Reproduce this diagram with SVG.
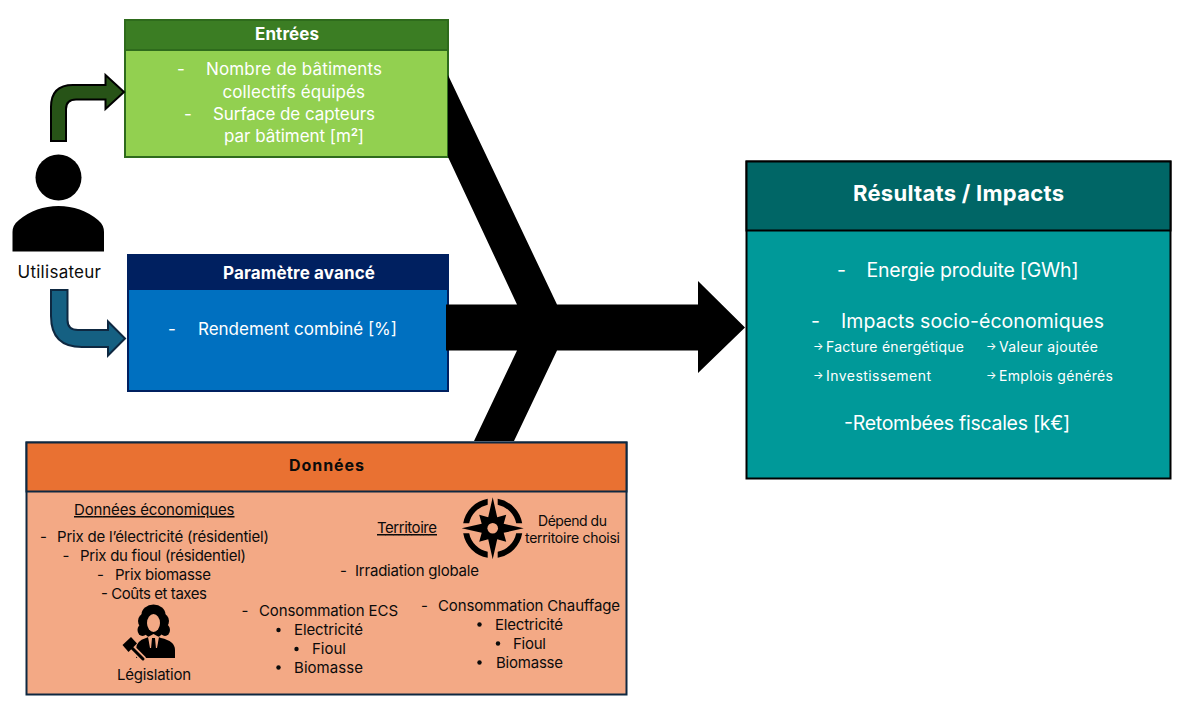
<svg xmlns="http://www.w3.org/2000/svg" xmlns:xlink="http://www.w3.org/1999/xlink" width="1191" height="711" viewBox="0 0 1191 711">
<style>
text{font-family:"Inter","Noto Sans","Liberation Sans",sans-serif;font-size:15px;fill:#0b0b0b}
.w{fill:#fff}
.b{font-weight:700}
.s16{font-size:17px}
.s18{font-size:19.500px}
.s13{font-size:14px}
.u{text-decoration:underline}
</style>
<defs>
<path id="arc" d="M-29.500,-5 A30,30 0 0 1 -5,-29.500 L-5,-23.500 A23.500,23.500 0 0 0 -23.500,-5 Z" fill="#000"/>
</defs>
<g id="node-entrees">
<rect x="125" y="20" width="323" height="137" fill="#92D050" stroke="#2E6B1C" stroke-width="2"/>
<rect x="125" y="20" width="323" height="30" fill="#3B7D23" stroke="#2E6B1C" stroke-width="2"/>
<text class="w b s16" x="255" y="39.500" textLength="64">Entrées</text>
<text class="w s16" x="177" y="75">-</text>
<text class="w s16" x="206" y="75" textLength="176">Nombre de bâtiments</text>
<text class="w s16" x="222.500" y="98" textLength="142.500">collectifs équipés</text>
<text class="w s16" x="184" y="120">-</text>
<text class="w s16" x="213" y="120" textLength="162">Surface de capteurs</text>
<text class="w s16" x="224" y="142" textLength="140">par bâtiment [m<tspan class="b" font-size="11" dy="-6">2</tspan><tspan dy="6">]</tspan></text>
</g>
<g id="node-parametre">
<rect x="128" y="255" width="320" height="136" fill="#0070C0" stroke="#002060" stroke-width="2"/>
<rect x="127" y="254" width="322" height="36" fill="#002060"/>
<text class="w b s16" x="223" y="278.500" textLength="152">Paramètre avancé</text>
<text class="w s16" x="168" y="335">-</text>
<text class="w s16" x="198" y="335" textLength="199">Rendement combiné [%]</text>
</g>
<g id="node-resultats">
<rect x="746.500" y="161.500" width="424" height="317" fill="#009999" stroke="#000" stroke-width="2"/>
<rect x="746.500" y="161.500" width="424" height="69" fill="#006666" stroke="#000" stroke-width="2"/>
<text class="w b" style="font-size:22px" x="853" y="200.500" textLength="211">Résultats / Impacts</text>
<text class="w s18" x="837" y="277">-</text>
<text class="w s18" x="866.500" y="277" textLength="212">Energie produite [GWh]</text>
<text class="w s18" x="811" y="327.500">-</text>
<text class="w s18" x="841" y="327.500" textLength="263">Impacts socio-économiques</text>
<text class="w" style="font-size:11px" x="813" y="350">→</text>
<text class="w s13" x="826" y="351.500" textLength="138">Facture énergétique</text>
<text class="w" style="font-size:11px" x="986" y="350">→</text>
<text class="w s13" x="999" y="351.500" textLength="99">Valeur ajoutée</text>
<text class="w" style="font-size:11px" x="813" y="379">→</text>
<text class="w s13" x="826" y="380.500" textLength="105">Investissement</text>
<text class="w" style="font-size:11px" x="986" y="379">→</text>
<text class="w s13" x="999" y="380.500" textLength="114">Emplois générés</text>
<text class="w s18" x="844" y="430" textLength="226">-Retombées fiscales [k€]</text>
</g>
<g id="node-donnees">
<rect x="26.500" y="442.500" width="600" height="252" fill="#F3A985" stroke="#0E2841" stroke-width="2"/>
<rect x="26.500" y="442.500" width="600" height="49" fill="#E97132" stroke="#0E2841" stroke-width="2"/>
<text class="b" x="289" y="471" textLength="75" style="font-size:16px">Données</text>
<text class="u" x="74" y="515" textLength="160.500">Données économiques</text>
<text x="40" y="541.500">-</text>
<text x="57" y="541.500" textLength="212">Prix de l’électricité (résidentiel)</text>
<text x="62.500" y="560.500">-</text>
<text x="80" y="560.500" textLength="166">Prix du fioul (résidentiel)</text>
<text x="97" y="579.500">-</text>
<text x="115" y="579.500" textLength="96">Prix biomasse</text>
<text x="101" y="598.500" textLength="106">- Coûts et taxes</text>
<text x="117" y="680" textLength="74">Législation</text>
<text class="u" x="377" y="533" textLength="60">Territoire</text>
<text class="s13" x="538" y="526" textLength="69">Dépend du</text>
<text class="s13" x="525" y="542.500" textLength="95">territoire choisi</text>
<text x="340" y="576">-</text>
<text x="355" y="576" textLength="124">Irradiation globale</text>
<text x="241.500" y="616">-</text>
<text x="259" y="616" textLength="139">Consommation ECS</text>
<circle cx="278.500" cy="630" r="2.200" fill="#0b0b0b"/>
<text x="294" y="635" textLength="69">Electricité</text>
<circle cx="296.500" cy="649" r="2.200" fill="#0b0b0b"/>
<text x="312" y="654" textLength="34">Fioul</text>
<circle cx="278.500" cy="667.500" r="2.200" fill="#0b0b0b"/>
<text x="294" y="672.500" textLength="69">Biomasse</text>
<text x="421" y="611">-</text>
<text x="438" y="611" textLength="182">Consommation Chauffage</text>
<circle cx="479.500" cy="624.500" r="2.200" fill="#0b0b0b"/>
<text x="495" y="630" textLength="68">Electricité</text>
<circle cx="498" cy="643.500" r="2.200" fill="#0b0b0b"/>
<text x="513" y="649" textLength="33">Fioul</text>
<circle cx="479.500" cy="662.500" r="2.200" fill="#0b0b0b"/>
<text x="496" y="668" textLength="67">Biomasse</text>
</g>
<g id="node-utilisateur">
<circle cx="58.500" cy="177.500" r="23" fill="#000"/>
<path d="M12.500,251.500 V232 Q12.500,225 19,220 Q36,206 58.500,206 Q81,206 98,220 Q104,225 104,232 V251.500 Z" fill="#000"/>
<text class="s16" x="17.500" y="277.500" textLength="83.500">Utilisateur</text>
</g>
<g id="icon-boussole" transform="translate(492.700,528.300)">
<polygon points="0,-31 4.500,-11 13.500,-13.500 11,-4.500 31,0 11,4.500 13.500,13.500 4.500,11 0,31 -4.500,11 -13.500,13.500 -11,4.500 -31,0 -11,-4.500 -13.500,-13.500 -4.500,-11" fill="#000"/>
<circle r="5.300" fill="#F3A985"/>
<use xlink:href="#arc"/>
<use xlink:href="#arc" transform="rotate(90)"/>
<use xlink:href="#arc" transform="rotate(180)"/>
<use xlink:href="#arc" transform="rotate(270)"/>
</g>
<g id="icon-legislation">
<path d="M136,658 V649 Q136,641 146,638 L153,635 L161,638 Q175,641 175,650 V658 Z" fill="#000"/>
<ellipse cx="153.500" cy="614.500" rx="12" ry="10" fill="#000"/>
<ellipse cx="144.500" cy="621" rx="6.500" ry="7.500" fill="#000"/>
<ellipse cx="162.500" cy="621" rx="6.500" ry="7.500" fill="#000"/>
<ellipse cx="142.500" cy="630" rx="5" ry="6" fill="#000"/>
<ellipse cx="165" cy="630" rx="5" ry="6" fill="#000"/>
<ellipse cx="153.500" cy="627" rx="11" ry="11" fill="#000"/>
<ellipse cx="153.500" cy="623" rx="6.500" ry="9" fill="#F3A985"/>
<path d="M148,637 L153.500,634 L159,637 L157,648 H150 Z" fill="#F3A985"/>
<path d="M152,638 H155 L156,649 L153.500,655 L151,649 Z" fill="#000"/>
<path d="M131,647 L143,659" stroke="#F3A985" stroke-width="6.500" stroke-linecap="round" fill="none"/>
<path d="M131,647 L143,659" stroke="#000" stroke-width="3" stroke-linecap="round" fill="none"/>
<polygon points="122.500,645 131,637 137,643.500 128.500,652" fill="#000"/>
</g>
<g id="connecteurs">
<path d="M51,141 V107 Q51,85 73,85 H105.500 V75 L124,92 L105.500,109 V99.500 H76 Q66,99.500 66,109 V141 Z" fill="#275317" stroke="#000" stroke-width="2"/>
<path d="M51,290 H67.500 V320 Q67.500,330 78,330 H108 V321.500 L125,338.500 L108,355.500 V347 H82 Q51,347 51,316 Z" fill="#156082" stroke="#0E2841" stroke-width="2"/>
<polygon points="448,75 557,304.500 698,304.500 698,281 745,327.500 698,373 698,350.500 557,350.500 514,441 474,441 517,350.500 446,350.500 446,304.500 517,304.500 448,157" fill="#000"/>
</g>
</svg>
